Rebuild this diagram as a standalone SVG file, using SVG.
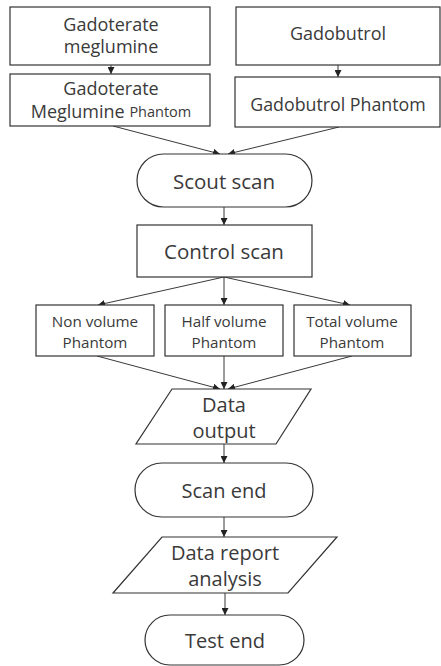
<svg xmlns="http://www.w3.org/2000/svg" width="441" height="666" viewBox="0 0 441 666">
<style>
.s{fill:#fff;stroke:#333;stroke-width:1.2}
.t{font-family:"Open Sans","Noto Sans","Liberation Sans",sans-serif;fill:#3a3a3a;text-anchor:middle;dominant-baseline:central}
.c{stroke:#222;stroke-width:0.9;fill:none;marker-end:url(#a)}
</style>
<defs>
<marker id="a" viewBox="0 0 10 10" refX="10" refY="5" markerWidth="7" markerHeight="7" markerUnits="userSpaceOnUse" orient="auto">
<path d="M0,0 L10,5 L0,10 z" fill="#222"/>
</marker>
</defs>
<rect width="441" height="666" fill="#fff"/>
<g id="connectors">
<line class="c" x1="111" y1="65" x2="111" y2="74"/>
<line class="c" x1="338" y1="65" x2="338" y2="77"/>
<line class="c" x1="113" y1="126" x2="220" y2="154"/>
<line class="c" x1="339" y1="127" x2="228" y2="154"/>
<line class="c" x1="224" y1="207" x2="224" y2="225"/>
<line class="c" x1="224" y1="277" x2="98" y2="305"/>
<line class="c" x1="224" y1="277" x2="224" y2="305"/>
<line class="c" x1="224" y1="277" x2="350" y2="305"/>
<line class="c" x1="97" y1="356" x2="220" y2="389"/>
<line class="c" x1="224" y1="356" x2="224" y2="389"/>
<line class="c" x1="352" y1="356" x2="228" y2="389"/>
<line class="c" x1="224" y1="444" x2="224" y2="463"/>
<line class="c" x1="224" y1="517" x2="224" y2="537"/>
<line class="c" x1="225" y1="593" x2="225" y2="615"/>
</g>
<g id="gadoterate">
<rect class="s" x="10" y="7" width="200" height="58"/>
<text class="t" x="111" y="24" font-size="18">Gadoterate</text>
<text class="t" x="111" y="46" font-size="18">meglumine</text>
</g>
<g id="gadobutrol">
<rect class="s" x="236" y="7" width="204" height="58"/>
<text class="t" x="338" y="33" font-size="18">Gadobutrol</text>
</g>
<g id="gadoterate-phantom">
<rect class="s" x="10" y="74" width="200" height="52"/>
<text class="t" x="111" y="88" font-size="18">Gadoterate</text>
<text class="t" x="111" y="111" font-size="18">Meglumine <tspan font-size="14.5">Phantom</tspan></text>
</g>
<g id="gadobutrol-phantom">
<rect class="s" x="235" y="77" width="205" height="50"/>
<text class="t" x="338" y="104" font-size="17.8">Gadobutrol Phantom</text>
</g>
<g id="scout-scan">
<rect class="s" x="137" y="154" width="175" height="53" rx="26.5"/>
<text class="t" x="224" y="181" font-size="20.5">Scout scan</text>
</g>
<g id="control-scan">
<rect class="s" x="137" y="225" width="175" height="52"/>
<text class="t" x="224" y="251" font-size="20.5">Control scan</text>
</g>
<g id="non-volume">
<rect class="s" x="36" y="305" width="118" height="51"/>
<text class="t" x="95" y="321" font-size="15.2">Non volume</text>
<text class="t" x="95" y="342" font-size="15.2">Phantom</text>
</g>
<g id="half-volume">
<rect class="s" x="165" y="305" width="118" height="51"/>
<text class="t" x="224" y="321" font-size="15.2">Half volume</text>
<text class="t" x="224" y="342" font-size="15.2">Phantom</text>
</g>
<g id="total-volume">
<rect class="s" x="294" y="305" width="117" height="51"/>
<text class="t" x="352" y="321" font-size="15.2">Total volume</text>
<text class="t" x="352" y="342" font-size="15.2">Phantom</text>
</g>
<g id="data-output">
<polygon class="s" points="172,389 311,389 276,444 136,444"/>
<text class="t" x="224" y="404" font-size="20">Data</text>
<text class="t" x="224" y="430" font-size="20">output</text>
</g>
<g id="scan-end">
<rect class="s" x="135" y="463" width="178" height="54" rx="27"/>
<text class="t" x="224" y="490" font-size="20">Scan end</text>
</g>
<g id="data-report">
<polygon class="s" points="162,537 337,537 288,593 113,593"/>
<text class="t" x="225" y="552" font-size="20">Data report</text>
<text class="t" x="225" y="578" font-size="20">analysis</text>
</g>
<g id="test-end">
<rect class="s" x="145" y="615" width="159" height="50" rx="25"/>
<text class="t" x="225" y="640" font-size="20">Test end</text>
</g>
</svg>
